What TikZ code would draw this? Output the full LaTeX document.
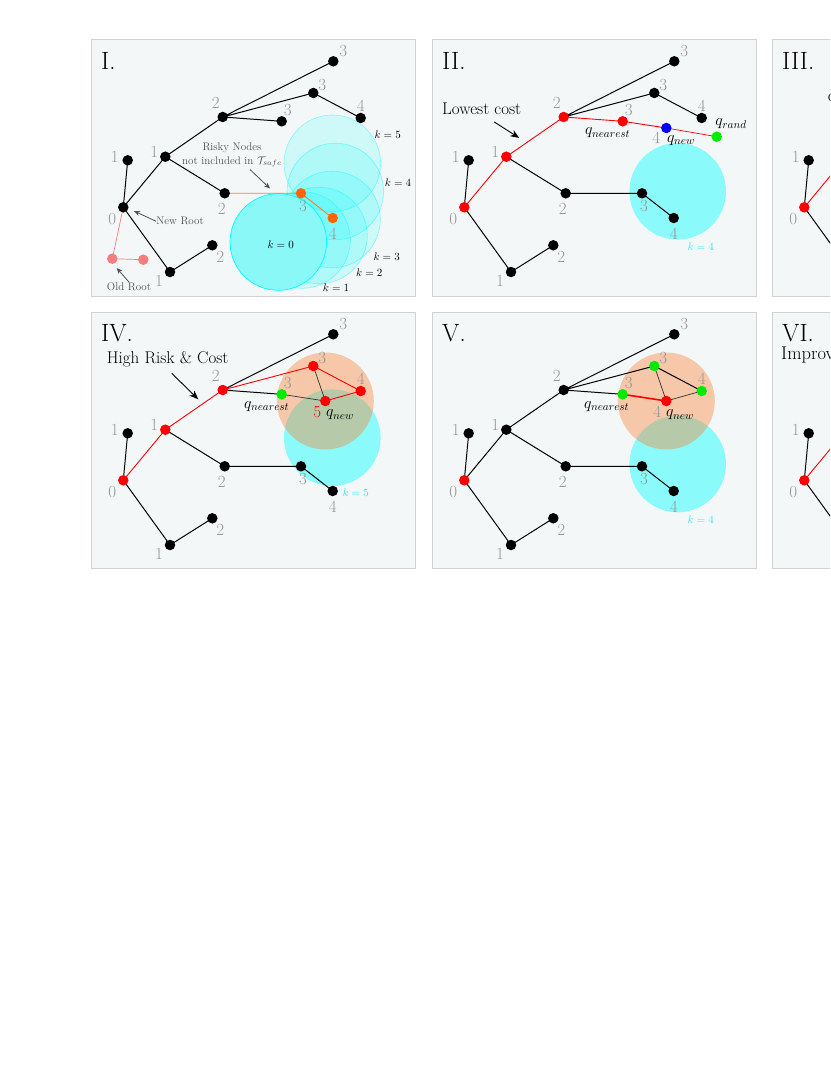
\documentclass[tikz,border=0pt]{standalone}
\usepackage{fix-cm}
\usepackage{fontspec}
\usetikzlibrary{arrows.meta,calc}
\definecolor{panelbg}{RGB}{244,247,248}
\definecolor{panelborder}{RGB}{208,210,212}
\definecolor{numgray}{RGB}{150,150,150}
\definecolor{txtgray}{RGB}{80,80,80}
\definecolor{orangeN}{RGB}{255,102,0}
\definecolor{pinkN}{RGB}{245,125,125}
\definecolor{greenN}{RGB}{0,235,0}
\definecolor{peachN}{RGB}{249,129,48}
\definecolor{cyanN}{RGB}{0,255,255}
\definecolor{cyanT}{RGB}{40,235,240}
\definecolor{cyanK}{RGB}{138,248,246}
\newcommand\fsnum{\fontsize{17}{17}\selectfont}
\newcommand\fsroman{\fontsize{25}{25}\selectfont}
\newcommand\fslab{\fontsize{17}{17}\selectfont}
\newcommand\fssmall{\fontsize{11}{14}\selectfont}
\newcommand\fsq{\fontsize{16}{16}\selectfont}
\newcommand\fscut{\fontsize{18.5}{18.5}\selectfont}
\newcommand\treecoords[1]{%
 \coordinate (#1t3) at (242.3,21.8);
 \coordinate (#1m3) at (222.3,53.5);
 \coordinate (#1f4) at (269.7,78.5);
 \coordinate (#1u2) at (131.7,77.5);
 \coordinate (#1s3) at (190.7,81.8);
 \coordinate (#1n1) at (74.3,117.2);
 \coordinate (#1l1) at (36.7,120.8);
 \coordinate (#1r0) at (32.3,167.8);
 \coordinate (#1d2) at (133.7,153.8);
 \coordinate (#1d3) at (210,153.8);
 \coordinate (#1d4) at (241.7,178.5);
 \coordinate (#1b2) at (121.3,205.8);
 \coordinate (#1b1) at (79,232.5);
 \coordinate (#1qn) at (234.3,88.5);
 \coordinate (#1qr) at (284.7,97.2);
}
\newcommand\treedots[1]{%
 \node[dot,c-t3] (#1Dt3) at (#1t3) {};
 \node[dot,c-m3] (#1Dm3) at (#1m3) {};
 \node[dot,c-f4] (#1Df4) at (#1f4) {};
 \node[dot,c-u2] (#1Du2) at (#1u2) {};
 \node[dot,c-s3] (#1Ds3) at (#1s3) {};
 \node[dot,c-n1] (#1Dn1) at (#1n1) {};
 \node[dot,c-l1] (#1Dl1) at (#1l1) {};
 \node[dot,c-r0] (#1Dr0) at (#1r0) {};
 \node[dot,c-d2] (#1Dd2) at (#1d2) {};
 \node[dot,c-d3] (#1Dd3) at (#1d3) {};
 \node[dot,c-d4] (#1Dd4) at (#1d4) {};
 \node[dot,c-b2] (#1Db2) at (#1b2) {};
 \node[dot,c-b1] (#1Db1) at (#1b1) {};
}
\newcommand\treelabels[1]{%
 \node[num] (#1Lt3) at ($(#1t3)+(10,-10)$) {3};
 \node[num] (#1Lm3) at ($(#1m3)+(9,-8)$) {3};
 \node[num] (#1Lf4) at ($(#1f4)+(0,-12)$) {4};
 \node[num] (#1Lu2) at ($(#1u2)+(-7,-14)$) {2};
 \node[num] (#1Ls3) at ($(#1s3)+(6,-11)$) {3};
 \node[num] (#1Ln1) at ($(#1n1)+(-11,-5)$) {1};
 \node[num] (#1Ll1) at ($(#1l1)+(-13,-3)$) {1};
 \node[num] (#1Lr0) at ($(#1r0)+(-11,12)$) {0};
 \node[num] (#1Ld2) at ($(#1d2)+(-3,16)$) {2};
 \node[num] (#1Ld3) at ($(#1d3)+(2,13)$) {3};
 \node[num] (#1Ld4) at ($(#1d4)+(0,16)$) {4};
 \node[num] (#1Lb2) at ($(#1b2)+(8,12)$) {2};
 \node[num] (#1Lb1) at ($(#1b1)+(-11,9)$) {1};
}
\tikzset{
 panel/.style={draw=panelborder, fill=panelbg, line width=0.8pt},
 dot/.style={circle, inner sep=0pt, minimum size=10.5pt, fill=black},
 edge/.style={line width=1pt, black},
 thinedge/.style={line width=0.7pt, black!80},
 redge/.style={line width=0.9pt, red},
 num/.style={text=numgray, font=\fsnum, inner sep=0pt},
 roman/.style={font=\fsroman, inner sep=0pt, anchor=west},
 klab/.style={font=\fssmall, inner sep=0pt},
 qlab/.style={font=\fsq, inner sep=0pt},
 biglab/.style={font=\fslab, inner sep=0pt},
 graytxt/.style={font=\fssmall, text=txtgray, inner sep=0pt, align=center},
 garrow/.style={draw=txtgray, line width=0.8pt, -{Stealth[length=6pt,width=5pt]}},
 barrow/.style={draw=black, line width=0.9pt, -{Stealth[length=9pt,width=7pt]}},
 cyanzone/.style={fill=cyanN, fill opacity=0.43},
 kzone/.style={fill=cyanN, fill opacity=0.15, draw=cyanN, draw opacity=0.45, line width=0.6pt},
 peachzone/.style={fill=peachN, fill opacity=0.4},
 c-t3/.style={}, c-m3/.style={}, c-f4/.style={}, c-u2/.style={}, c-s3/.style={},
 c-n1/.style={}, c-l1/.style={}, c-r0/.style={}, c-d2/.style={}, c-d3/.style={},
 c-d4/.style={}, c-b2/.style={}, c-b1/.style={},
}
\begin{document}
\begin{tikzpicture}[x=1pt,y=-1pt]
\path[use as bounding box] (0,0) rectangle (830,1075);
\clip (0,0) rectangle (830,1075);
\fill[white] (0,0) rectangle (830,1075);

% ---------------- Panel I ----------------
\begin{scope}[shift={(91,39.5)}]
 \tikzset{c-d3/.style={fill=orangeN}, c-d4/.style={fill=orangeN}}
 \treecoords{A}
 \coordinate (Ao1) at (21.3,219.2);
 \coordinate (Ao2) at (52.3,220.2);
 \draw[panel] (0,0) rectangle (324,256.5);
 \draw[kzone] (241.3,123.8) circle[radius=48.3];
 \draw[kzone] (244.3,152) circle[radius=48.3];
 \draw[kzone] (241,180) circle[radius=48.3];
 \draw[kzone] (228,196) circle[radius=48.3];
 \draw[kzone] (211,200.5) circle[radius=48.3];
 \draw[fill=cyanK, draw=cyanN, line width=0.7pt] (187.3,202.5) circle[radius=48.3];
 \draw[edge] (At3) -- (Au2) -- (Am3) -- (Af4);
 \draw[edge] (Au2) -- (As3);
 \draw[edge] (Al1) -- (Ar0) -- (An1) -- (Au2);
 \draw[edge] (An1) -- (Ad2);
 \draw[edge] (Ar0) -- (Ab1) -- (Ab2);
 \draw[line width=0.9pt, orangeN!85!white] (Ad2) -- (Ad3) -- (Ad4);
 \draw[line width=0.7pt, pinkN] (Ar0) -- (Ao1) -- (Ao2);
 \treedots{A}
 \node[dot, fill=pinkN] (ADo1) at (Ao1) {};
 \node[dot, fill=pinkN] (ADo2) at (Ao2) {};
 \treelabels{A}
 \node[roman] (Aroman) at (10,21) {I.};
 \node[klab] (Ak5) at (296.7,95.2) {$k=5$};
 \node[klab] (Ak4) at (307,143.5) {$k=4$};
 \node[klab] (Ak3) at (295.7,216.8) {$k=3$};
 \node[klab] (Ak2) at (278.3,233.5) {$k=2$};
 \node[klab] (Ak1) at (245,247.8) {$k=1$};
 \node[klab] (Ak0) at (189.7,205.2) {$k=0$};
 \node[graytxt] (Arisky) at (141,115.5) {Risky Nodes\\not included in $\mathcal{T}_{safe}$};
 \coordinate (Aa1) at (159,130);
 \coordinate (Aa2) at (179,149);
 \draw[garrow] (Aa1) -- (Aa2);
 \node[graytxt] (Anew) at (89,181.8) {New Root};
 \coordinate (Aa3) at (43,171.5);
 \draw[garrow] (Anew.west) -- (Aa3);
 \node[graytxt] (Aold) at (38,246.8) {Old Root};
 \coordinate (Aa4) at (25.7,228.5);
 \draw[garrow] (Aold.north) -- (Aa4);
\end{scope}

% ---------------- Panel II ----------------
\begin{scope}[shift={(432,39.5)}]
 \tikzset{c-r0/.style={fill=red}, c-n1/.style={fill=red}, c-u2/.style={fill=red}, c-s3/.style={fill=red}}
 \treecoords{B}
 \draw[panel] (0,0) rectangle (324,256.5);
 \fill[cyanzone] (245.7,151.8) circle[radius=48.3];
 \draw[edge] (Bt3) -- (Bu2) -- (Bm3) -- (Bf4);
 \draw[edge] (Bl1) -- (Br0) -- (Bb1) -- (Bb2);
 \draw[edge] (Bn1) -- (Bd2) -- (Bd3) -- (Bd4);
 \draw[redge] (Br0) -- (Bn1) -- (Bu2) -- (Bs3) -- (Bqn);
 \draw[line width=0.7pt, red] (Bqn) -- (Bqr);
 \treedots{B}
 \node[dot, fill=blue] (BDqn) at (Bqn) {};
 \node[dot, fill=greenN] (BDqr) at (Bqr) {};
 \treelabels{B}
 \node[num] (BLqn) at ($(Bqn)+(-10,10)$) {4};
 \node[roman] (Broman) at (10,21) {II.};
 \node[biglab] (Blow) at (49.7,69.2) {Lowest cost};
 \coordinate (Ba1) at (62.3,82.5);
 \coordinate (Ba2) at (87.3,98.5);
 \draw[barrow] (Ba1) -- (Ba2);
 \node[qlab] (Bqnear) at (175.7,93.5) {$q_{nearest}$};
 \node[qlab] (Bqnew) at (249,101.2) {$q_{new}$};
 \node[qlab] (Bqrand) at (299,84.5) {$q_{rand}$};
 \node[klab, text=cyanT] (Bk4) at (268.7,207.5) {$k=4$};
\end{scope}

% ---------------- Panel III (partly visible) ----------------
\begin{scope}[shift={(772,39.5)}]
 \treecoords{C}
 \draw[panel] (0,0) rectangle (324,256.5);
 \draw[edge] (Cl1) -- (Cr0) -- (Cb1);
 \draw[redge] (Cr0) -- (Cn1);
 \node[dot, fill=red] (CDr0) at (Cr0) {};
 \node[dot] (CDl1) at (Cl1) {};
 \node[num] (CLr0) at ($(Cr0)+(-11,12)$) {0};
 \node[num] (CLl1) at ($(Cl1)+(-13,-3)$) {1};
 \node[roman] (Croman) at (10,21) {III.};
 \node[biglab, anchor=base west] (Ctxt) at (55.6,62) {cost};
\end{scope}

% ---------------- Panel IV ----------------
\begin{scope}[shift={(91,312.5)}]
 \tikzset{c-r0/.style={fill=red}, c-n1/.style={fill=red}, c-u2/.style={fill=red},
   c-m3/.style={fill=red}, c-f4/.style={fill=red}, c-s3/.style={fill=greenN}}
 \treecoords{D}
 \draw[panel] (0,0) rectangle (324,256);
 \fill[cyanzone] (241.3,125.2) circle[radius=48.3];
 \fill[peachzone] (Dqn) circle[radius=48.5];
 \draw[edge] (Dt3) -- (Du2) -- (Ds3);
 \draw[edge] (Dl1) -- (Dr0) -- (Db1) -- (Db2);
 \draw[edge] (Dn1) -- (Dd2) -- (Dd3) -- (Dd4);
 \draw[thinedge] (Ds3) -- (Dqn) -- (Dm3);
 \draw[redge] (Dr0) -- (Dn1) -- (Du2) -- (Dm3) -- (Df4) -- (Dqn);
 \treedots{D}
 \node[dot, fill=red] (DDqn) at (Dqn) {};
 \treelabels{D}
 \node[num, text=red] (DLqn) at ($(Dqn)+(-8,11)$) {5};
 \node[roman] (Droman) at (10,21) {IV.};
 \node[biglab] (Dhigh) at (76.7,46.5) {High Risk \& Cost};
 \coordinate (Da1) at (80.7,60.8);
 \coordinate (Da2) at (107.3,86.8);
 \draw[barrow] (Da1) -- (Da2);
 \node[qlab] (Dqnear) at (175.7,94.2) {$q_{nearest}$};
 \node[qlab] (Dqnew) at (249,102.5) {$q_{new}$};
 \node[klab, text=cyanT] (Dk5) at (264.7,180.2) {$k=5$};
\end{scope}

% ---------------- Panel V ----------------
\begin{scope}[shift={(432,312.5)}]
 \tikzset{c-r0/.style={fill=red}, c-m3/.style={fill=greenN}, c-f4/.style={fill=greenN}, c-s3/.style={fill=greenN}}
 \treecoords{E}
 \draw[panel] (0,0) rectangle (324,256);
 \fill[cyanzone] (245.7,151.5) circle[radius=48.3];
 \fill[peachzone] (Eqn) circle[radius=48.5];
 \draw[edge] (Et3) -- (Eu2) -- (Em3) -- (Ef4);
 \draw[edge] (Eu2) -- (Es3);
 \draw[edge] (El1) -- (Er0) -- (En1) -- (Eu2);
 \draw[edge] (Er0) -- (Eb1) -- (Eb2);
 \draw[edge] (En1) -- (Ed2) -- (Ed3) -- (Ed4);
 \draw[thinedge] (Em3) -- (Eqn) -- (Ef4);
 \draw[line width=1.6pt, red] (Es3) -- (Eqn);
 \treedots{E}
 \node[dot, fill=red] (EDqn) at (Eqn) {};
 \treelabels{E}
 \node[num] (ELqn) at ($(Eqn)+(-9,11)$) {4};
 \node[roman] (Eroman) at (10,21) {V.};
 \node[qlab] (Eqnear) at (174.7,94.2) {$q_{nearest}$};
 \node[qlab] (Eqnew) at (248,102.5) {$q_{new}$};
 \node[klab, text=cyanT] (Ek4) at (268.7,207.5) {$k=4$};
\end{scope}

% ---------------- Panel VI (partly visible) ----------------
\begin{scope}[shift={(772,312.5)}]
 \treecoords{F}
 \draw[panel] (0,0) rectangle (324,256);
 \draw[edge] (Fl1) -- (Fr0) -- (Fb1);
 \draw[redge] (Fr0) -- (Fn1);
 \node[dot, fill=red] (FDr0) at (Fr0) {};
 \node[dot] (FDl1) at (Fl1) {};
 \node[num] (FLr0) at ($(Fr0)+(-11,12)$) {0};
 \node[num] (FLl1) at ($(Fl1)+(-13,-3)$) {1};
 \node[roman] (Froman) at (10,21) {VI.};
 \node[font=\fscut, inner sep=0pt, anchor=west] (Ftxt) at (9,42.5) {Improved Cost};
\end{scope}
\end{tikzpicture}
\end{document}
